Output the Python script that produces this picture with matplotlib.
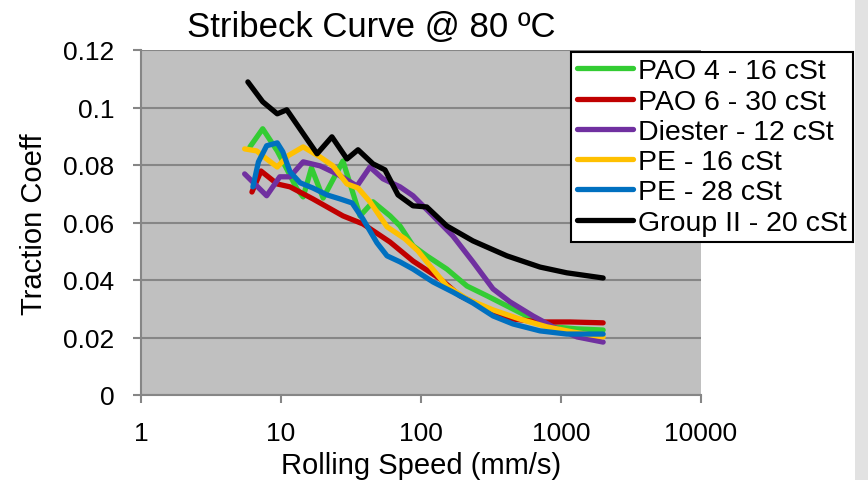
import matplotlib
matplotlib.use("Agg")
from matplotlib import pyplot as plt
from matplotlib.patches import Rectangle

# traction data (rolling speed mm/s, traction coeff)
pao4_x = [6.0, 7.4, 9.4, 11.0, 13.0, 14.4, 16.5, 20.0, 27.7, 36.7, 45.4, 60.1,
          70.8, 87.7, 110, 153, 213, 296, 454, 631, 877, 1300, 2000]
pao4_y = [0.0863, 0.0926, 0.0849, 0.0786, 0.0717, 0.0689, 0.0790, 0.0685, 0.0814,
          0.0623, 0.0672, 0.0623, 0.0588, 0.0519, 0.0484, 0.0438, 0.0379, 0.0345,
          0.0299, 0.0264, 0.0237, 0.0230, 0.0226]

pao6_x = [6.2, 7.2, 9.4, 11.6, 16.9, 27.7, 38.5, 60.1, 87.7, 137, 190, 296,
          454, 708, 1160, 2000]
pao6_y = [0.0706, 0.0779, 0.0734, 0.0724, 0.0682, 0.0623, 0.0595, 0.0532, 0.0466,
          0.0404, 0.0345, 0.0299, 0.0264, 0.0254, 0.0254, 0.0251]

diester_x = [5.5, 7.9, 9.8, 11.6, 14.4, 19.0, 25.1, 34.9, 43.2, 53.5, 70.8, 87.7,
             122, 169, 235, 327, 432, 631, 877, 1300, 2000]
diester_y = [0.0769, 0.0693, 0.0759, 0.0759, 0.0811, 0.0797, 0.0769, 0.0727, 0.0793,
             0.0752, 0.0724, 0.0693, 0.0623, 0.0553, 0.0463, 0.0369, 0.0324, 0.0275,
             0.0237, 0.0202, 0.0184]

pe16_x = [5.5, 6.7, 7.9, 9.4, 11.2, 14.4, 19.0, 23.5, 29.6, 35.5, 43.2, 57.2,
          76.9, 95.2, 116, 153, 213, 327, 509, 794, 1220, 2000]
pe16_y = [0.0856, 0.0849, 0.0821, 0.0793, 0.0832, 0.0863, 0.0828, 0.0797, 0.0734,
          0.0720, 0.0672, 0.0585, 0.0543, 0.0501, 0.0449, 0.0379, 0.0334, 0.0296,
          0.0264, 0.0237, 0.0219, 0.0202]

pe28_x = [6.3, 6.9, 7.9, 9.4, 10.3, 11.6, 13.7, 16.9, 21.3, 26.4, 32.2, 38.5,
          48.5, 57.2, 70.8, 87.7, 122, 169, 235, 327, 454, 708, 1100, 2000]
pe28_y = [0.0724, 0.0811, 0.0867, 0.0877, 0.0846, 0.0776, 0.0738, 0.0720, 0.0696,
          0.0682, 0.0668, 0.0612, 0.0529, 0.0484, 0.0463, 0.0438, 0.0393, 0.0358,
          0.0320, 0.0275, 0.0247, 0.0223, 0.0212, 0.0212]

group2_x = [5.8, 7.4, 9.4, 11.0, 18.1, 23.1, 29.6, 35.5, 45.4, 55.3, 68.5, 87.7,
            110, 153, 235, 411, 708, 1100, 2000]
group2_y = [0.1089, 0.1020, 0.0978, 0.0992, 0.0839, 0.0898, 0.0821, 0.0853, 0.0804,
            0.0783, 0.0696, 0.0658, 0.0654, 0.0588, 0.0536, 0.0484, 0.0445, 0.0425,
            0.0407]

series = [
    ("PAO 4 - 16 cSt", pao4_x, pao4_y, "#33CC33"),
    ("PAO 6 - 30 cSt", pao6_x, pao6_y, "#C00000"),
    ("Diester - 12 cSt", diester_x, diester_y, "#7030A0"),
    ("PE - 16 cSt", pe16_x, pe16_y, "#FFC000"),
    ("PE - 28 cSt", pe28_x, pe28_y, "#0070C0"),
    ("Group II - 20 cSt", group2_x, group2_y, "#000000"),
]

plt.rcParams["font.family"] = ["Liberation Sans", "DejaVu Sans"]

fig = plt.figure(figsize=(8.68, 4.81), dpi=100)
fig.patches.append(Rectangle((855 / 868, 0), 13 / 868, 1, transform=fig.transFigure,
                             facecolor="#E2E2E2", edgecolor="none", zorder=0))
ax = fig.add_axes([141 / 868, 85 / 481, 560 / 868, 345 / 481])
ax.set_facecolor("#C0C0C0")

for label, x, y, color in series:
    ax.plot(x, y, color=color, linewidth=3.8, label=label,
            solid_joinstyle="round", solid_capstyle="round")

ax.set_xscale("log")
ax.set_xlim(1, 10000)
ax.set_ylim(0, 0.12)
ax.set_xticks([1, 10, 100, 1000, 10000])
ax.set_xticklabels(["1", "10", "100", "1000", "10000"])
ax.minorticks_off()
ax.set_yticks([0, 0.02, 0.04, 0.06, 0.08, 0.1, 0.12])
ax.set_yticklabels(["0", "0.02", "0.04", "0.06", "0.08", "0.1", "0.12"])
ax.yaxis.grid(True, color="#868686", linewidth=1.5)
ax.set_axisbelow(True)

for side in ["top", "right"]:
    ax.spines[side].set_visible(False)
for side in ["left", "bottom"]:
    ax.spines[side].set_color("#868686")
    ax.spines[side].set_linewidth(1.5)
ax.tick_params(axis="both", colors="#868686", width=1.5, length=6,
               labelsize=19, labelcolor="black", pad=13)

# axis titles and chart title placed where the reference has them
fig.text(421 / 868, 1 - 474 / 481, "Rolling Speed (mm/s)", fontsize=21,
         ha="center", va="baseline")
fig.text(34 / 868, 1 - 224 / 481, "Traction Coeff", fontsize=21, rotation=90,
         ha="center", va="center")
fig.text(371 / 868, 1 - 37 / 481, "Stribeck Curve @ 80 \u00baC", fontsize=25,
         ha="center", va="baseline")

leg = ax.legend(loc="upper left", bbox_to_anchor=(571 / 868, 1 - 53 / 481),
                bbox_transform=fig.transFigure, fontsize=20.5, frameon=True,
                fancybox=False, framealpha=1, edgecolor="black",
                handlelength=1.95, handletextpad=0.18, labelspacing=0.15,
                borderpad=0.22, borderaxespad=0)
leg.get_frame().set_linewidth(1.5)

fig.savefig("out.png", dpi=100)
